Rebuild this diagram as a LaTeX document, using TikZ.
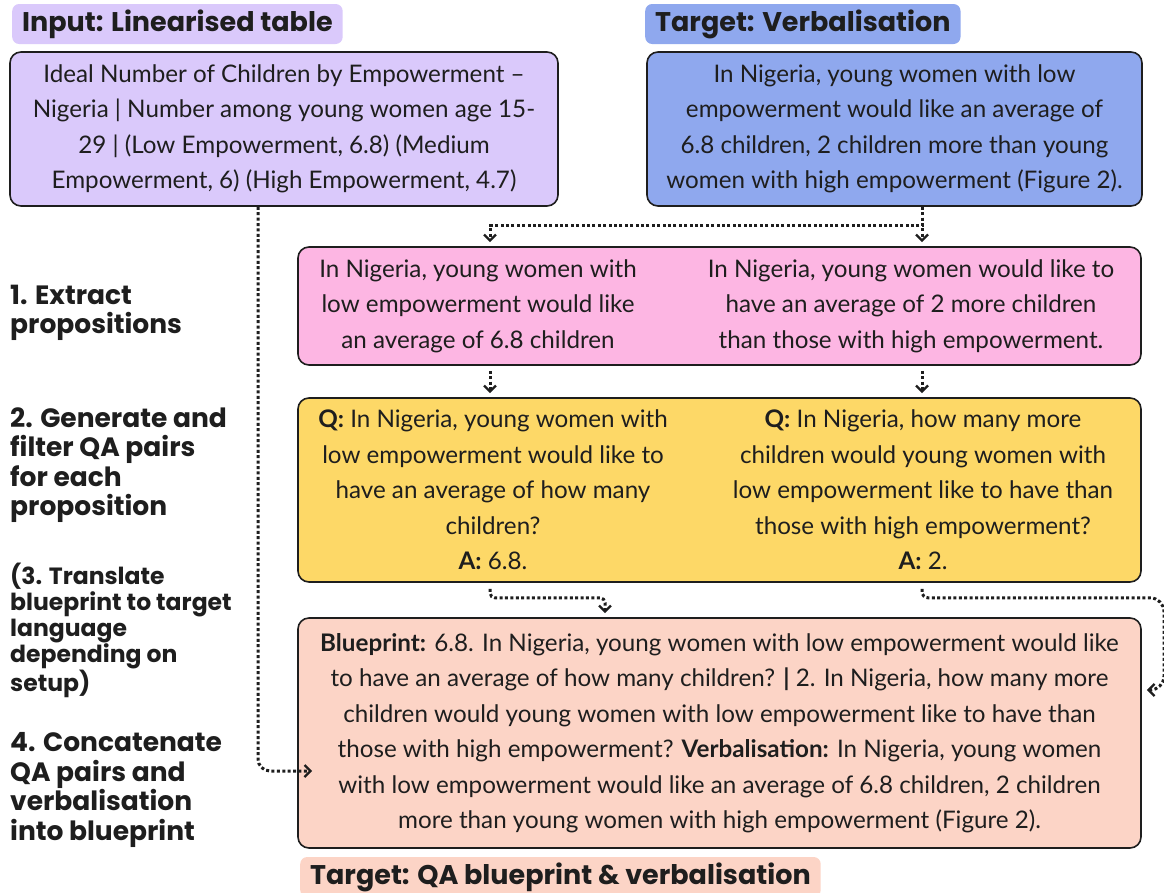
\documentclass[tikz,border=0pt]{standalone}
\usepackage{fontspec}
\setmainfont{Lato}
\newfontfamily\headfont{Poppins}
\usetikzlibrary{arrows.meta}

\definecolor{ink}{HTML}{1E1E1E}
\definecolor{lilac}{HTML}{DAC9FB}
\definecolor{cornflower}{HTML}{8FA8EE}
\definecolor{candy}{HTML}{FDB6E3}
\definecolor{mustard}{HTML}{FDD867}
\definecolor{peach}{HTML}{FCD4C6}

\begin{document}
\begin{tikzpicture}
        [
            x                   = 1pt,
            y                   = -1pt,
            every node/.style   = {text=ink, font=\fontsize{24.2}{35.5}\selectfont},
            boxed/.style        = {shape=rectangle, draw=ink, line width=1.6pt, rounded corners=11pt, align=center, inner sep=0pt},
            column/.style       = {align=center, inner sep=0pt},
            tag/.style          = {shape=rectangle, rounded corners=7pt, anchor=west, minimum height=40pt, inner xsep=10pt, inner ysep=0pt, font=\headfont\bfseries\fontsize{27}{30}\selectfont},
            stepnote/.style     = {anchor=west, align=left, inner sep=0pt, font=\headfont\bfseries\fontsize{26.5}{29.5}\selectfont},
            flow/.style         = {draw=ink, line width=3pt, dash pattern=on 3pt off 2.4pt, -{Straight Barb[length=6pt,width=12pt,line width=2.4pt]}},
        ]
        \useasboundingbox (0,0) rectangle (1164,892);

        \coordinate (laneA) at (490,0);
        \coordinate (laneB) at (922,0);
        \coordinate (laneC) at (605,0);
        \coordinate (laneD) at (258,0);

        \node [tag, fill=lilac] (inputtag) at (12,24) {Input: Linearised table};
        \node [tag, fill=cornflower] (targettag) at (645,24) {Target: Verbalisation};

        \node [boxed, fill=lilac, minimum width=548pt, minimum height=154pt] (input) at (284,129)
            {Ideal Number of Children by Empowerment –\\
             Nigeria | Number among young women age 15-\\
             29 | (Low Empowerment, 6.8) (Medium\\
             Empowerment, 6) (High Empowerment, 4.7)};
        \node [boxed, fill=cornflower, minimum width=495pt, minimum height=154pt] (target) at (894.5,129)
            {In Nigeria, young women with low\\
             empowerment would like an average of\\
             6.8 children, 2 children more than young\\
             women with high empowerment (Figure 2).};

        \node [boxed, fill=candy, minimum width=843pt, minimum height=118pt] (prop) at (719.5,306) {};
        \node [column] (propA) at (478,306)
            {In Nigeria, young women with\\ low empowerment would like\\ an average of 6.8 children};
        \node [column] (propB) at (911,306)
            {In Nigeria, young women would like to\\ have an average of 2 more children\\ than those with high empowerment.};

        \node [boxed, fill=mustard, minimum width=843pt, minimum height=184pt] (qa) at (719.5,490) {};
        \node [column] (qaA) at (493,490)
            {\textbf{Q:} In Nigeria, young women with\\ low empowerment would like to\\ have an average of how many\\ children?\\ \textbf{A:} 6.8.};
        \node [column] (qaB) at (923,490)
            {\textbf{Q:} In Nigeria, how many more\\ children would young women with\\ low empowerment like to have than\\ those with high empowerment?\\ \textbf{A:} 2.};

        \node [boxed, fill=peach, minimum width=843pt, minimum height=230pt] (bp) at (719.5,733)
            {\textbf{Blueprint:} 6.8. In Nigeria, young women with low empowerment would like\\
             to have an average of how many children? \textbf{|} 2. In Nigeria, how many more\\
             children would young women with low empowerment like to have than\\
             those with high empowerment? \textbf{Verbalisation:} In Nigeria, young women\\
             with low empowerment would like an average of 6.8 children, 2 children\\
             more than young women with high empowerment (Figure 2).};
        \node [tag, fill=peach] (bptag) at (300,877) {Target: QA blueprint \& verbalisation};

        \node [stepnote] (s1) at (10,313) {1. Extract\\ propositions};
        \node [stepnote] (s2) at (10,465) {2. Generate and\\ filter QA pairs\\ for each\\ proposition};
        \node [stepnote, font=\headfont\bfseries\fontsize{23.5}{26}\selectfont] (s3) at (10,630)
            {(3. Translate\\ blueprint to target\\ language\\ depending on\\ setup)};
        \node [stepnote] (s4) at (10,790) {4. Concatenate\\ QA pairs and\\ verbalisation\\ into blueprint};

        \draw [flow] (target.south -| laneB) -- ++(0,19) -| ([yshift=4pt]prop.north -| laneA);
        \draw [flow] (target.south -| laneB) -- ([yshift=4pt]prop.north -| laneB);
        \draw [flow] ([yshift=-5pt]prop.south -| laneA) -- ([yshift=4pt]qa.north -| laneA);
        \draw [flow] ([yshift=-5pt]prop.south -| laneB) -- ([yshift=4pt]qa.north -| laneB);
        \draw [flow, rounded corners=5pt] ([yshift=-6pt]qa.south -| laneA) -- ++(0,9) -| ([yshift=4pt]bp.north -| laneC);
        \draw [flow, rounded corners=6pt] ([yshift=-6pt]qa.south -| laneB) -- ++(0,9)
            [rounded corners=14pt] -- ++(242,0) |- ([shift={(5pt,43pt)}]bp.east);
        \draw [flow, rounded corners=12pt] (input.south -| laneD) |- ([shift={(15pt,-38pt)}]bp.west);
\end{tikzpicture}
\end{document}
